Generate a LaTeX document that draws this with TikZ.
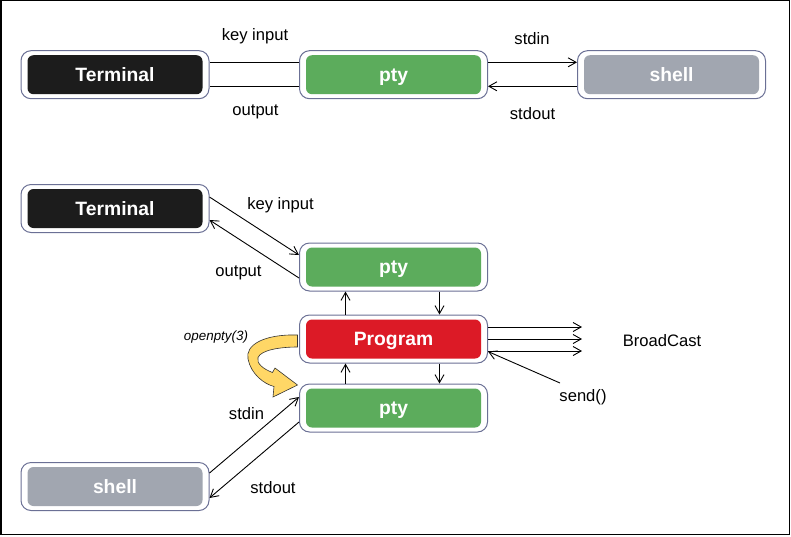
\documentclass[tikz,border=0pt]{standalone}
\usepackage{fontspec}
\setmainfont{Liberation Sans}
\usetikzlibrary{arrows.meta}
\definecolor{boxborder}{HTML}{6B7095}
\definecolor{termfill}{HTML}{1C1C1C}
\definecolor{ptyfill}{HTML}{5CAC5C}
\definecolor{shellfill}{HTML}{A1A6B0}
\definecolor{progfill}{HTML}{DC1A26}
\definecolor{openyellow}{HTML}{FFD766}
\tikzset{
  outerbox/.style={draw=boxborder, fill=white, rounded corners=10pt, line width=1pt,
    minimum width=188pt, minimum height=48pt, inner sep=0pt},
  innerbox/.style={rounded corners=6pt, minimum width=175pt, minimum height=39pt,
    inner sep=0pt, text=white, text height=13.8pt, text depth=0pt,
    font=\fontsize{19.3}{22}\selectfont\bfseries},
  lbl/.style={inner sep=0pt, font=\fontsize{16.6}{19}\selectfont},
  conn/.style={line width=0.9pt},
  arr/.style={conn, -{Straight Barb[length=8pt,width=9pt,line width=0.9pt]}},
}
\begin{document}
\begin{tikzpicture}[x=1pt,y=-1pt]
\useasboundingbox (0,0) rectangle (791,536);
\draw[line width=1.3pt] (1,0.6) rectangle (789.3,534.3);

% ---------- top row ----------
\node[outerbox] (T1) at (115,74.7) {};
\node[innerbox, fill=termfill] (T1i) at (T1.center) {Terminal};
\node[outerbox] (P1) at (393.5,74.7) {};
\node[innerbox, fill=ptyfill] (P1i) at (P1.center) {pty};
\node[outerbox] (S1) at (671.5,74.7) {};
\node[innerbox, fill=shellfill] (S1i) at (S1.center) {shell};

\draw[conn] ([yshift=12.4pt]T1.east) -- ([yshift=12.4pt]P1.west);
\draw[conn] ([yshift=-11.6pt]P1.west) -- ([yshift=-11.6pt]T1.east);
\draw[arr] ([yshift=12.4pt]P1.east) -- ([yshift=12.4pt]S1.west);
\draw[arr] ([yshift=-11.6pt]S1.west) -- ([yshift=-11.6pt]P1.east);

\node[lbl] (l1) at (255,36.5) {key input};
\node[lbl] (l2) at (255.5,112) {output};
\node[lbl] (l3) at (532,38.5) {stdin};
\node[lbl] (l4) at (532.5,114) {stdout};

% ---------- bottom part ----------
\node[outerbox] (T2) at (115,208.5) {};
\node[innerbox, fill=termfill] (T2i) at (T2.center) {Terminal};
\node[outerbox] (P2) at (393.5,267) {};
\node[innerbox, fill=ptyfill] (P2i) at (P2.center) {pty};
\node[outerbox] (Pr) at (393.5,339) {};
\node[innerbox, fill=progfill] (Pri) at (Pr.center) {Program};
\node[outerbox] (P3) at (393.5,408) {};
\node[innerbox, fill=ptyfill] (P3i) at (P3.center) {pty};
\node[outerbox] (S2) at (115,486.5) {};
\node[innerbox, fill=shellfill] (S2i) at (S2.center) {shell};

% Terminal <-> pty
\draw[arr] ([yshift=11.5pt]T2.east) -- ([yshift=12pt]P2.west);
\draw[arr] ([yshift=-11pt]P2.west) -- ([yshift=-11.5pt]T2.east);
% pty <-> Program
\draw[arr] ([xshift=-48pt]Pr.north) -- ([xshift=-48pt]P2.south);
\draw[arr] ([xshift=46pt]P2.south) -- ([xshift=46pt]Pr.north);
% Program <-> pty
\draw[arr] ([xshift=-48pt]P3.north) -- ([xshift=-48pt]Pr.south);
\draw[arr] ([xshift=46pt]Pr.south) -- ([xshift=46pt]P3.north);
% shell <-> pty
\draw[arr] ([yshift=13.5pt]S2.east) -- ([yshift=11pt]P3.west);
\draw[arr] ([yshift=-14pt]P3.west) -- ([yshift=-11.5pt]S2.east);

% BroadCast
\coordinate (b1) at (582,327);
\coordinate (b2) at (582,339);
\coordinate (b3) at (582,351);
\draw[arr] ([yshift=12pt]Pr.east) -- (b1);
\draw[arr] (Pr.east) -- (b2);
\draw[arr] ([yshift=-12pt]Pr.east) -- (b3);
\coordinate (sendst) at (560,383);
\draw[arr] (sendst) -- ([yshift=-12.5pt]Pr.east);

\node[lbl] (lb) at (662,340.5) {BroadCast};
\node[lbl] (ls) at (583,397.5) {send()};
\node[lbl] (l5) at (280.5,205) {key input};
\node[lbl] (l6) at (238.5,273) {output};
\node[lbl] (l7) at (246.5,413.5) {stdin};
\node[lbl] (l8) at (273,488) {stdout};
\node[inner sep=0pt, font=\fontsize{13.4}{16}\selectfont\itshape] (lo) at (216,337.5) {openpty(3)};

% openpty curved arrow
\filldraw[fill=openyellow, draw=black!80, line width=0.6pt]
  (297.5,335) .. controls (264,334) and (245,345) .. (248,359)
  .. controls (251,374) and (264,384) .. (274,386.5)
  -- (273,397) -- (297.5,385) -- (275,368) -- (272.5,372.5)
  .. controls (263,369) and (256,363) .. (258,357.5)
  .. controls (261,350) and (280,347) .. (297.5,347) -- cycle;
\end{tikzpicture}
\end{document}
